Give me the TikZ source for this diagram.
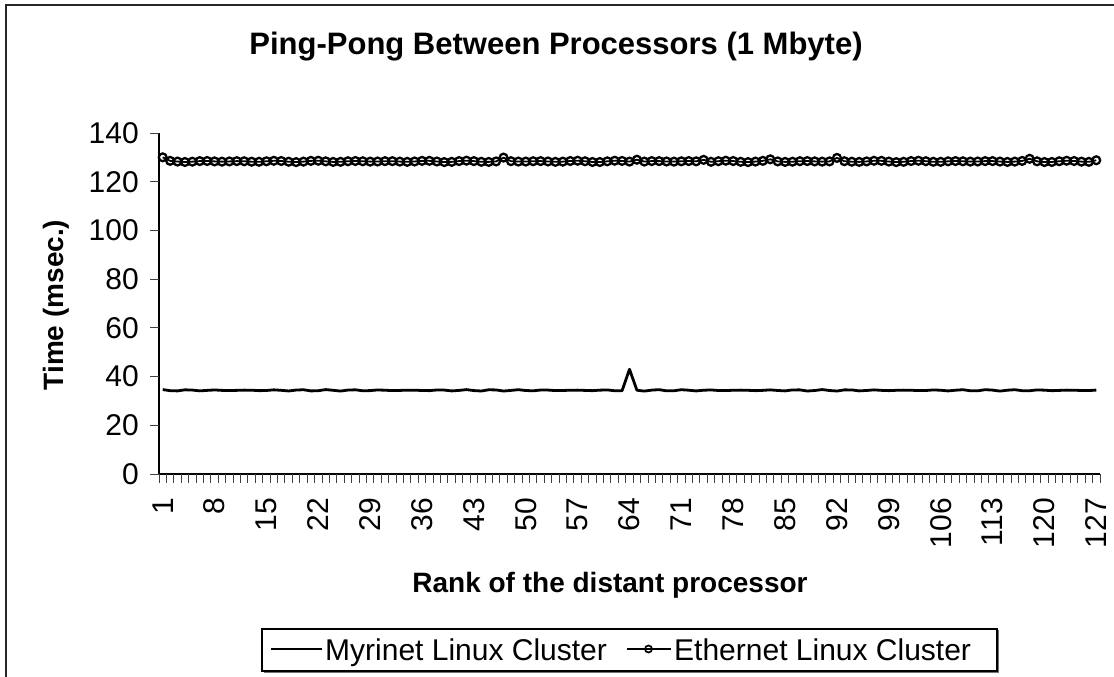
\documentclass[tikz,border=0pt]{standalone}
\usepackage{fontspec}
\setmainfont{Liberation Sans}
\begin{document}
\begin{tikzpicture}[x=1pt,y=-1pt,
  declare function={
    px(\t)=159+(\t-0.5)*7.4094;
    myrv(\t)=474-2.4357*(34.35+0.2*sin(\t*97)+0.12*sin(\t*113)+8.4*(abs(\t-64)<0.5));
    ethv(\t)=474-2.4357*(128.35+0.2*sin(\t*71)+0.1*sin(\t*53)
     +1.4*(abs(\t-1)<0.5)+1.4*(abs(\t-47)<0.5)+0.9*(abs(\t-65)<0.5)+0.8*(abs(\t-74)<0.5)
     +0.6*(abs(\t-83)<0.5)+1.3*(abs(\t-92)<0.5)+0.8*(abs(\t-118)<0.5)+0.5*(abs(\t-127)<0.5));
  },
  lbl/.style={font=\fontsize{30}{32}\selectfont, inner sep=0pt},
  blbl/.style={font=\bfseries\fontsize{28}{30}\selectfont, inner sep=0pt},
  tlbl/.style={font=\bfseries\fontsize{31}{33}\selectfont, inner sep=0pt},
  axisline/.style={line width=1.2pt, black},
  tickmark/.style={line width=1pt, black!75},
  myr/.style={line width=2.8pt, line join=round},
  eth/.style={line width=1.8pt, line join=round},
  ethmark/.style={line width=2.3pt},
  legbox/.style={draw=black, line width=1.1pt}]
\useasboundingbox (0,0) rectangle (1114,677);
\begin{scope}
  \clip (0,0) rectangle (1114,677);
  \draw[line width=1.7pt, black!85] (6,5) rectangle (1140,700);
\end{scope}
% title and axis titles
\node[tlbl, anchor=base] (title) at (556,55) {Ping-Pong Between Processors (1 Mbyte)};
\node[blbl, anchor=base, rotate=90] (ylab) at (63,305) {Time (msec.)};
\node[blbl, anchor=base] (xlab) at (610,592) {Rank of the distant processor};
% axes
\draw[axisline] (159,133) -- (159,474) -- (1100,474);
\foreach \v in {0,20,...,140} {
  \draw[tickmark] (150,{474-\v*2.4357}) -- (159,{474-\v*2.4357});
  \node[lbl, anchor=east] (yt\v) at (139,{474-\v*2.4357}) {\v};
}
\foreach \i in {0,...,127} {
  \draw[tickmark] ({159+\i*7.4094},474) -- ({159+\i*7.4094},483);
}
\foreach \k in {1,8,...,127} {
  \node[lbl, rotate=90, anchor=east] (xt\k) at ({px(\k)},498) {\k};
}
% data
\draw[myr] plot[domain=1:127, samples=127] ({px(\x)}, {myrv(\x)});
\draw[eth] plot[domain=1:127, samples=127] ({px(\x)}, {ethv(\x)});
\foreach \n in {1,...,127} {
  \pgfmathsetmacro{\ex}{px(\n)}
  \pgfmathsetmacro{\ey}{ethv(\n)}
  \draw[ethmark] (\ex,\ey) circle[radius=3.9];
}
% legend
\draw[black!55, line width=1.6pt] (264,672) -- (998,672) -- (998,630);
\draw[legbox] (262,629) rectangle (997,671);
\coordinate (la) at (271,649);
\coordinate (lb) at (322,649);
\draw[myr] (la) -- (lb);
\node[lbl, anchor=base west] (l1) at (325,660) {Myrinet Linux Cluster};
\coordinate (lc) at (627,649);
\coordinate (ld) at (671,649);
\draw[line width=2pt] (lc) -- (ld);
\node[draw, circle, line width=1.7pt, minimum size=7pt, inner sep=0pt] (lm) at (648.5,649) {};
\node[lbl, anchor=base west] (l2) at (674,660) {Ethernet Linux Cluster};
\end{tikzpicture}
\end{document}
